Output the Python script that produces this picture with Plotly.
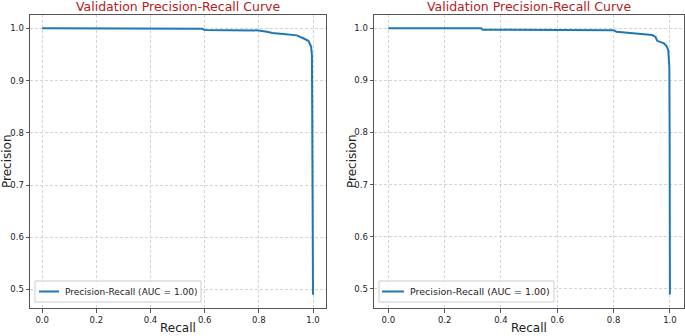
import plotly.graph_objects as go

# ---- data ----
recall_left = [0.0, 0.50, 0.51, 0.59, 0.60, 0.74, 0.75, 0.80, 0.83, 0.85, 0.89, 0.94,
               0.964, 0.983, 0.993, 0.996, 0.997, 0.998, 0.999, 1.0]
precision_left = [1.0, 1.0, 0.999, 0.999, 0.997, 0.997, 0.996, 0.996, 0.9936, 0.991, 0.989, 0.9865,
                  0.981, 0.976, 0.965, 0.949, 0.85, 0.70, 0.60, 0.49]

recall_right = [0.0, 0.33, 0.335, 0.56, 0.565, 0.717, 0.72, 0.80, 0.81, 0.848, 0.896, 0.937,
                0.949, 0.955, 0.979, 0.988, 0.994, 0.998, 0.999, 1.0]
precision_right = [1.0, 1.0, 0.9975, 0.9975, 0.997, 0.997, 0.9965, 0.9965, 0.9936, 0.9915, 0.9897, 0.987,
                   0.9834, 0.976, 0.971, 0.966, 0.958, 0.926, 0.80, 0.489]

x_ticks = [0.0, 0.2, 0.4, 0.6, 0.8, 1.0]
y_ticks = [0.5, 0.6, 0.7, 0.8, 0.9, 1.0]
title_text = "Validation Precision-Recall Curve"
legend_name = "Precision-Recall (AUC = 1.00)"

FONT = "DejaVu Sans"
LINE_BLUE = "#1f77b4"
W, H = 685, 336

fig = go.Figure()
fig.add_trace(go.Scatter(x=recall_left, y=precision_left, mode="lines",
                         line=dict(color=LINE_BLUE, width=2), name=legend_name,
                         xaxis="x", yaxis="y", showlegend=False))
fig.add_trace(go.Scatter(x=recall_right, y=precision_right, mode="lines",
                         line=dict(color=LINE_BLUE, width=2), name=legend_name,
                         xaxis="x2", yaxis="y2", showlegend=False))

def px_x(p):
    return p / W

def px_y(p):
    return 1 - p / H

axis_common = dict(
    showline=True, mirror=True, linecolor="#555", linewidth=1,
    ticks="outside", ticklen=3.5, tickcolor="#555", tickwidth=1,
    showgrid=True, gridcolor="#d4d4d4", griddash="3px,2px", gridwidth=1,
    zeroline=False, tickfont=dict(family=FONT, size=8.5, color="#222"),
)

ydom = [px_y(308), px_y(15)]
fig.update_layout(
    width=W, height=H, margin=dict(l=0, r=0, t=0, b=0),
    paper_bgcolor="white", plot_bgcolor="white",
    font=dict(family=FONT),
    xaxis=dict(domain=[px_x(30), px_x(326)], range=[-0.045, 1.048], tickvals=x_ticks,
               ticktext=[f"{v:.1f}" for v in x_ticks], anchor="y", **axis_common),
    yaxis=dict(domain=ydom, range=[0.4645, 1.0255], tickvals=y_ticks,
               ticktext=[f"{v:.1f}" for v in y_ticks], anchor="x", **axis_common),
    xaxis2=dict(domain=[px_x(374), px_x(684)], range=[-0.051, 1.05], tickvals=x_ticks,
                ticktext=[f"{v:.1f}" for v in x_ticks], anchor="y2", **axis_common),
    yaxis2=dict(domain=ydom, range=[0.463, 1.0256], tickvals=y_ticks,
                ticktext=[f"{v:.1f}" for v in y_ticks], anchor="x2", **axis_common),
    showlegend=False,
)

annotations = []
shapes = []
for cx in [(30 + 326) / 2, (374 + 684) / 2]:
    annotations.append(dict(text=title_text, x=px_x(cx), y=px_y(6.5), xref="paper", yref="paper",
                            xanchor="center", yanchor="middle", showarrow=False,
                            font=dict(family=FONT, size=12.5, color="#b22222")))
    annotations.append(dict(text="Recall", x=px_x(cx), y=px_y(328), xref="paper", yref="paper",
                            xanchor="center", yanchor="middle", showarrow=False,
                            font=dict(family=FONT, size=12, color="#222")))
for lx in [7, 352]:
    annotations.append(dict(text="Precision", x=px_x(lx), y=px_y(161), xref="paper", yref="paper",
                            xanchor="center", yanchor="middle", showarrow=False, textangle=-90,
                            font=dict(family=FONT, size=12, color="#222")))

# legend boxes (left, right): box x0, x1, line x0, x1, text x, font size
legend_specs = [(35, 201, 39, 59, 63, 9.0), (379, 554, 382, 404, 408, 9.5)]
for bx0, bx1, lx0, lx1, tx, fs in legend_specs:
    shapes.append(dict(type="rect", xref="paper", yref="paper",
                       x0=px_x(bx0), x1=px_x(bx1), y0=px_y(302), y1=px_y(281),
                       line=dict(color="#cccccc", width=1), fillcolor="rgba(255,255,255,0.85)",
                       layer="above"))
    shapes.append(dict(type="line", xref="paper", yref="paper",
                       x0=px_x(lx0), x1=px_x(lx1), y0=px_y(291.5), y1=px_y(291.5),
                       line=dict(color=LINE_BLUE, width=2), layer="above"))
    annotations.append(dict(text=legend_name, x=px_x(tx), y=px_y(291.5), xref="paper", yref="paper",
                            xanchor="left", yanchor="middle", showarrow=False,
                            font=dict(family=FONT, size=fs, color="#222")))

fig.update_layout(annotations=annotations, shapes=shapes)

fig.write_html("out.html", config={"responsive": False, "displayModeBar": False},
               post_script="document.body.style.margin='0';document.body.style.overflow='hidden';")
